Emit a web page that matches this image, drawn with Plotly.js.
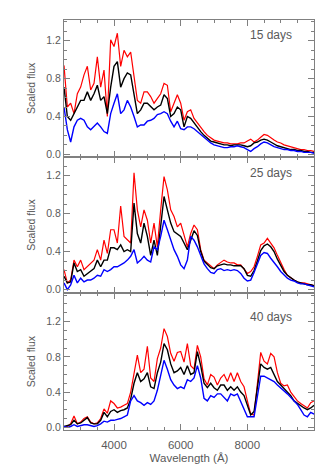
<!DOCTYPE html>
<html>
<head>
<meta charset="utf-8">
<script src="https://cdn.plot.ly/plotly-3.0.1.min.js"></script>
<style>
html,body{margin:0;padding:0;background:#fff;}
#chart{width:334px;height:472px;}
</style>
</head>
<body>
<div id="chart"></div>
<script>
// Wavelength grid (Angstrom)
const wavelength = [2500,2600,2700,2800,2900,3000,3100,3200,3300,3400,3500,3600,3700,3800,3900,4000,4100,4200,4300,4400,4500,4600,4700,4800,4900,5000,5100,5200,5300,5400,5500,5600,5700,5800,5900,6000,6100,6200,6300,6400,6500,6600,6700,6800,6900,7000,7100,7200,7300,7400,7500,7600,7700,7800,7900,8000,8100,8200,8300,8400,8500,8600,8700,8800,8900,9000,9100,9200,9300,9400,9500,9600,9700,9800,9900,10000];

const panelLabels = ["15 days", "25 days", "40 days"];

// 15 days
const red15 = [0.94,0.50,0.54,0.43,0.64,0.71,0.84,0.93,0.68,0.75,1.03,0.71,0.89,0.40,1.21,1.14,1.28,0.93,1.10,1.03,1.08,0.82,0.57,0.54,0.66,0.66,0.61,0.54,0.59,0.64,0.75,0.73,0.45,0.54,0.63,0.54,0.36,0.45,0.47,
  0.38,0.33,0.28,0.24,0.20,0.17,0.15,0.14,0.13,0.12,0.12,0.11,0.11,0.11,0.12,0.12,0.14,0.16,0.13,0.15,0.18,0.21,0.20,0.17,0.15,0.13,0.12,0.10,0.09,0.08,0.07,0.06,0.05,0.05,0.04,0.04,0.03];
const black15 = [0.71,0.40,0.36,0.43,0.50,0.57,0.57,0.66,0.57,0.64,0.73,0.57,0.61,0.43,0.71,0.93,0.98,0.71,0.80,0.86,0.84,0.61,0.43,0.47,0.54,0.54,0.50,0.47,0.50,0.52,0.63,0.59,0.40,0.43,0.50,0.47,0.29,0.40,0.38,
  0.33,0.29,0.24,0.20,0.17,0.14,0.13,0.12,0.11,0.10,0.10,0.09,0.10,0.10,0.10,0.09,0.08,0.09,0.12,0.13,0.15,0.16,0.15,0.13,0.11,0.09,0.08,0.07,0.06,0.05,0.05,0.04,0.04,0.03,0.03,0.02,0.02];
const blue15 = [0.50,0.26,0.13,0.29,0.36,0.38,0.36,0.29,0.26,0.29,0.33,0.29,0.24,0.22,0.43,0.54,0.64,0.43,0.47,0.57,0.50,0.40,0.29,0.31,0.31,0.35,0.36,0.38,0.42,0.43,0.45,0.43,0.35,0.29,0.35,0.27,0.26,0.29,0.29,
  0.27,0.24,0.20,0.17,0.14,0.12,0.10,0.09,0.08,0.07,0.07,0.08,0.08,0.09,0.08,0.07,0.05,0.03,0.06,0.08,0.11,0.13,0.12,0.10,0.08,0.07,0.06,0.05,0.05,0.04,0.04,0.03,0.03,0.02,0.02,0.02,0.01];

// 25 days
const red25 = [0.21,0.07,0.10,0.31,0.24,0.31,0.21,0.24,0.28,0.31,0.42,0.31,0.52,0.38,0.63,0.63,0.49,0.88,0.56,0.52,0.49,1.23,0.84,0.66,0.84,0.73,0.49,0.70,0.45,0.84,1.19,1.05,0.84,0.77,0.66,0.70,0.56,0.45,0.59,
  0.68,0.63,0.42,0.31,0.28,0.24,0.22,0.26,0.29,0.31,0.29,0.28,0.28,0.26,0.26,0.22,0.17,0.19,0.24,0.35,0.47,0.49,0.54,0.49,0.44,0.36,0.28,0.21,0.15,0.12,0.10,0.08,0.07,0.07,0.06,0.05,0.04];
const black25 = [0.14,0.07,0.08,0.28,0.19,0.21,0.14,0.17,0.19,0.22,0.31,0.24,0.31,0.31,0.44,0.44,0.42,0.47,0.40,0.42,0.40,0.91,0.59,0.49,0.70,0.56,0.36,0.52,0.36,0.66,0.98,0.84,0.70,0.61,0.58,0.56,0.49,0.42,0.52,
  0.62,0.57,0.40,0.30,0.26,0.23,0.22,0.25,0.26,0.27,0.26,0.26,0.25,0.25,0.25,0.22,0.15,0.14,0.20,0.30,0.41,0.46,0.48,0.45,0.40,0.32,0.25,0.19,0.15,0.12,0.10,0.08,0.07,0.06,0.05,0.05,0.04];
const blue25 = [0.07,0.00,0.05,0.15,0.07,0.12,0.08,0.10,0.10,0.12,0.15,0.14,0.21,0.19,0.21,0.24,0.24,0.26,0.28,0.31,0.35,0.42,0.28,0.31,0.35,0.31,0.29,0.45,0.42,0.56,0.73,0.63,0.52,0.42,0.35,0.26,0.22,0.31,0.56,
  0.52,0.45,0.35,0.27,0.22,0.18,0.17,0.21,0.22,0.20,0.21,0.20,0.21,0.20,0.17,0.12,0.09,0.10,0.18,0.27,0.36,0.39,0.38,0.33,0.29,0.24,0.19,0.15,0.12,0.10,0.09,0.07,0.06,0.06,0.05,0.04,0.03];

// 40 days
const red40 = [0.01,0.01,0.04,0.13,0.04,0.06,0.10,0.12,0.06,0.04,0.05,0.10,0.21,0.16,0.30,0.27,0.22,0.23,0.25,0.27,
  0.40,0.62,0.82,0.62,0.66,0.92,0.56,0.52,0.78,0.90,1.12,1.03,0.84,0.75,0.85,0.86,0.74,0.95,0.70,0.66,
  0.93,0.80,0.55,0.48,0.60,0.57,0.48,0.56,0.60,0.52,0.62,0.52,0.62,0.52,0.46,0.30,0.15,0.14,0.50,0.85,
  0.75,0.72,0.84,0.80,0.62,0.50,0.47,0.48,0.40,0.35,0.30,0.27,0.24,0.22,0.28,0.30];
const black40 = [0.01,0.02,0.03,0.08,0.04,0.05,0.08,0.11,0.05,0.04,0.04,0.08,0.17,0.12,0.18,0.20,0.17,0.19,0.20,0.22,
  0.32,0.50,0.62,0.52,0.55,0.62,0.46,0.44,0.62,0.74,0.95,0.88,0.72,0.62,0.64,0.68,0.60,0.70,0.60,0.62,
  0.86,0.70,0.50,0.45,0.50,0.45,0.42,0.48,0.48,0.42,0.46,0.42,0.46,0.40,0.36,0.25,0.14,0.18,0.45,0.72,
  0.68,0.66,0.68,0.60,0.52,0.48,0.44,0.40,0.36,0.30,0.27,0.24,0.22,0.20,0.22,0.25];
const blue40 = [0.01,0.00,0.01,0.03,0.01,0.02,0.03,0.03,0.02,0.01,0.02,0.04,0.07,0.06,0.08,0.08,0.09,0.10,0.12,0.14,
  0.30,0.36,0.30,0.28,0.25,0.28,0.26,0.30,0.42,0.58,0.76,0.66,0.54,0.48,0.44,0.46,0.44,0.54,0.52,0.56,
  0.70,0.56,0.33,0.30,0.36,0.34,0.38,0.38,0.34,0.30,0.38,0.36,0.38,0.30,0.20,0.12,0.12,0.12,0.35,0.58,
  0.58,0.56,0.54,0.52,0.48,0.45,0.42,0.38,0.34,0.30,0.26,0.20,0.14,0.12,0.17,0.15];

const panels = [
  {xa:'x3', ya:'y3', series:[red15, black15, blue15]},
  {xa:'x2', ya:'y2', series:[red25, black25, blue25]},
  {xa:'x',  ya:'y',  series:[red40, black40, blue40]}
];
const colors = ['#ff0000', '#000000', '#0000ff'];
const widths = [1.2, 1.4, 1.4];

const traces = [];
panels.forEach(p => {
  p.series.forEach((s, i) => {
    traces.push({
      x: wavelength, y: s, xaxis: p.xa, yaxis: p.ya,
      type: 'scatter', mode: 'lines',
      line: {color: colors[i], width: widths[i], shape: 'linear'},
      showlegend: false, hoverinfo: 'skip'
    });
  });
});

const axCol = '#808080';
const txtCol = '#5a5a5a';
const FONT = 'Liberation Sans, Arial, Helvetica, sans-serif';

function xAxis(showLabels, anchor) {
  const a = {
    anchor: anchor, domain: [0, 1], range: [2500, 9998],
    tickmode: 'linear', tick0: 0, dtick: 2000, tickformat: 'd',
    ticks: 'inside', ticklen: 6, tickwidth: 1, tickcolor: axCol,
    minor: {ticks: 'inside', ticklen: 3, dtick: 500, tick0: 0, tickcolor: axCol, showgrid: false},
    showline: true, linecolor: axCol, linewidth: 1, mirror: 'ticks',
    showgrid: false, zeroline: false,
    showticklabels: showLabels,
    tickfont: {family: FONT, size: 11.5, color: txtCol},
    ticklabelstandoff: 4
  };
  if (showLabels) {
    a.title = {text: 'Wavelength (Å)', font: {family: FONT, size: 11.5, color: txtCol}, standoff: 4};
  } else {
    a.matches = 'x';
  }
  return a;
}
function yAxis(domain, range, anchor) {
  return {
    anchor: anchor, domain: domain, range: range,
    tickmode: 'linear', tick0: 0, dtick: 0.4, tickformat: '.1f',
    ticks: 'inside', ticklen: 6, tickwidth: 1, tickcolor: axCol,
    minor: {ticks: 'inside', ticklen: 3, dtick: 0.1, tick0: 0, tickcolor: axCol, showgrid: false},
    showline: true, linecolor: axCol, linewidth: 1, mirror: 'ticks',
    showgrid: false, zeroline: false,
    tickfont: {family: FONT, size: 10.5, color: txtCol},
    title: {text: 'Scaled flux', font: {family: FONT, size: 10.5, color: txtCol}, standoff: 8}
  };
}

const layout = {
  width: 334, height: 472,
  margin: {l: 64, r: 20, t: 20, b: 42},
  paper_bgcolor: '#ffffff', plot_bgcolor: '#ffffff',
  showlegend: false,
  xaxis: xAxis(true, 'y'),
  xaxis2: xAxis(false, 'y2'),
  xaxis3: xAxis(false, 'y3'),
  yaxis: yAxis([0, 0.3333], [-0.03, 1.52], 'x'),
  yaxis2: yAxis([0.3333, 0.6667], [-0.04, 1.40], 'x2'),
  yaxis3: yAxis([0.6667, 1], [-0.025, 1.42], 'x3'),
  annotations: [
    {text: panelLabels[0], xref: 'x3 domain', yref: 'y3 domain', x: 0.92, y: 0.887, xanchor: 'right', yanchor: 'middle', showarrow: false, font: {family: FONT, size: 12, color: txtCol}},
    {text: panelLabels[1], xref: 'x2 domain', yref: 'y2 domain', x: 0.92, y: 0.879, xanchor: 'right', yanchor: 'middle', showarrow: false, font: {family: FONT, size: 12, color: txtCol}},
    {text: panelLabels[2], xref: 'x domain', yref: 'y domain', x: 0.92, y: 0.824, xanchor: 'right', yanchor: 'middle', showarrow: false, font: {family: FONT, size: 12, color: txtCol}}
  ]
};

Plotly.newPlot('chart', traces, layout, {staticPlot: true, displayModeBar: false});
</script>
</body>
</html>
